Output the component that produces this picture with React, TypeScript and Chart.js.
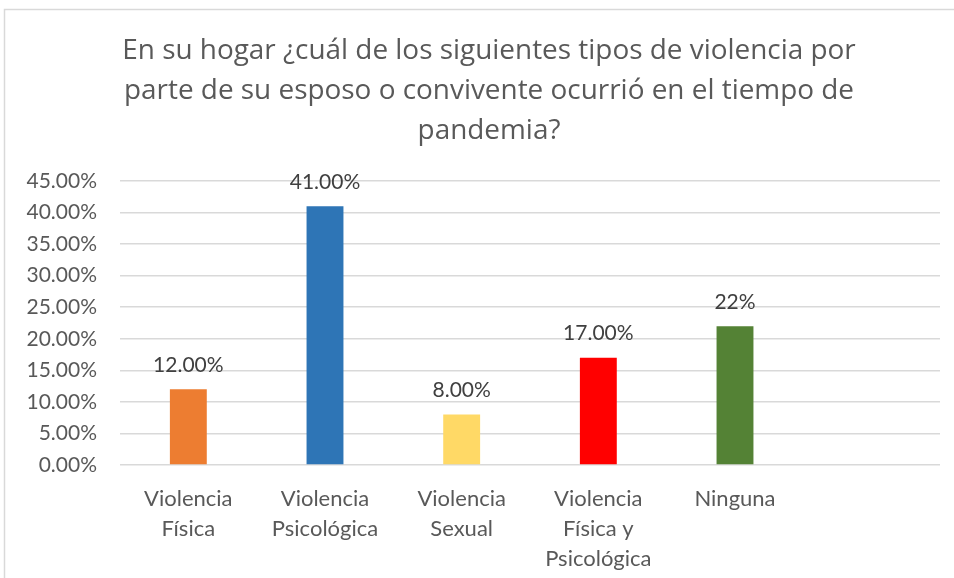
import React, { useEffect, useRef } from "react";
import { Chart, registerables } from "chart.js";
Chart.register(...registerables);

const TITLE_LINES = [
  "En su hogar ¿cuál de los siguientes tipos de violencia por",
  "parte de su esposo o convivente ocurrió en el tiempo de",
  "pandemia?",
];
const CATEGORIES: (string | string[])[] = [
  ["Violencia", "Física"],
  ["Violencia", "Psicológica"],
  ["Violencia", "Sexual"],
  ["Violencia", "Física y", "Psicológica"],
  "Ninguna",
  "",
];
const VALUES: (number | null)[] = [12, 41, 8, 17, 22, null];
const VALUE_LABELS = ["12.00%", "41.00%", "8.00%", "17.00%", "22%", ""];
const BAR_COLORS = ["#ED7D31", "#2E75B6", "#FFD966", "#FF0000", "#548235", "#FFFFFF"];
const Y_MIN = 0;
const Y_MAX = 45;
const Y_STEP = 5;

const FONT = "Lato, 'Open Sans', sans-serif";
const TITLE_FONT = "'Open Sans', Lato, sans-serif";
const TEXT = "#595959";
const LABEL = "#404040";
const GRID = "#d9d9d9";

const overlay = {
  id: "overlay",
  afterDraw(chart: any) {
    const ctx = chart.ctx;
    ctx.save();
    // border
    ctx.strokeStyle = GRID;
    ctx.lineWidth = 1.5;
    ctx.strokeRect(4.5, 9.5, 3000, 3000);
    // title, sized so the first line spans the reference width
    ctx.font = `25px ${TITLE_FONT}`;
    const w = ctx.measureText(TITLE_LINES[0]).width;
    const size = (25 * 734) / w;
    ctx.font = `${size}px ${TITLE_FONT}`;
    ctx.fillStyle = TEXT;
    ctx.textAlign = "center";
    ctx.textBaseline = "middle";
    const ty = [51, 91, 131];
    TITLE_LINES.forEach((l, i) => ctx.fillText(l, 489, ty[i]));
    // data labels
    const meta = chart.getDatasetMeta(0);
    ctx.font = `21px ${FONT}`;
    ctx.fillStyle = LABEL;
    meta.data.forEach((bar: any, i: number) => {
      if (VALUES[i] == null) return;
      ctx.fillText(VALUE_LABELS[i], bar.x, bar.y - 24);
    });
    ctx.restore();
  },
};

export default function App() {
  const ref = useRef<HTMLCanvasElement>(null);
  useEffect(() => {
    const chart = new Chart(ref.current!, {
      type: "bar",
      data: {
        labels: CATEGORIES,
        datasets: [
          {
            data: VALUES,
            backgroundColor: BAR_COLORS,
            categoryPercentage: 1,
            barPercentage: 0.27,
          },
        ],
      },
      options: {
        responsive: false,
        animation: false,
        layout: { padding: { left: 0, right: 14, top: 181, bottom: 0 } },
        plugins: { legend: { display: false }, title: { display: false }, tooltip: { enabled: false } },
        scales: {
          y: {
            min: Y_MIN,
            max: Y_MAX,
            ticks: {
              stepSize: Y_STEP,
              callback: (v: any) => Number(v).toFixed(2) + "%",
              font: { family: FONT, size: 21 },
              color: TEXT,
              padding: 23,
            },
            grid: { color: GRID, lineWidth: 1.5, drawTicks: false },
            border: { display: false },
            afterFit: (s: any) => {
              s.width = 120;
            },
          },
          x: {
            grid: { display: false },
            border: { display: false },
            ticks: {
              maxRotation: 0,
              autoSkip: false,
              font: { family: FONT, size: 22, lineHeight: "30px" },
              color: TEXT,
              padding: 11,
            },
            afterFit: (s: any) => {
              s.height = 113;
            },
          },
        },
      },
      plugins: [overlay],
    });
    return () => chart.destroy();
  }, []);
  return (
    <div style={{ position: "fixed", left: 0, top: 0, width: 954, height: 578, background: "#fff" }}>
      <canvas ref={ref} width={954} height={578} />
    </div>
  );
}
